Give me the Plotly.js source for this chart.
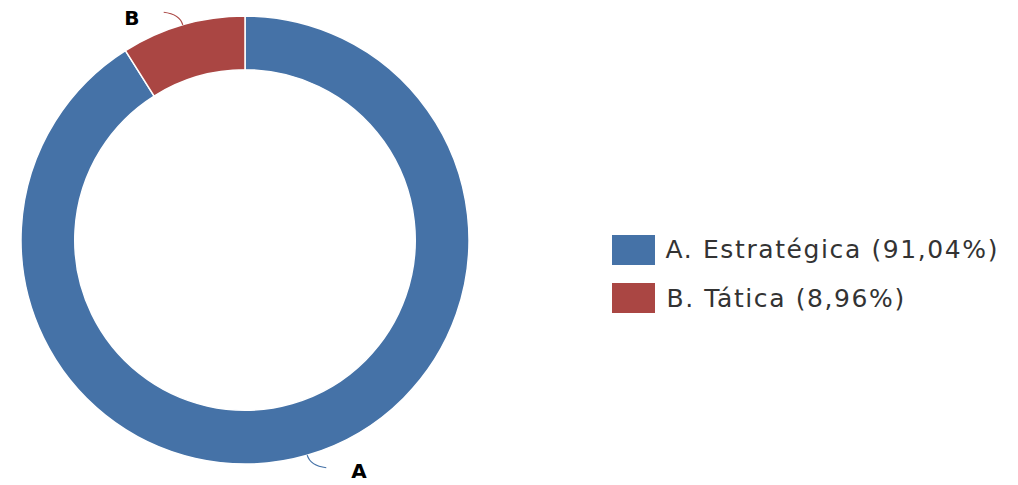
<!DOCTYPE html>
<html>
<head>
<meta charset="utf-8">
<script src="https://cdn.plot.ly/plotly-3.0.1.min.js"></script>
<style>
html,body{margin:0;padding:0;background:#fff;}
#chart{width:1018px;height:485px;}
#chart .annotation-text{letter-spacing:1.6px;}
</style>
</head>
<body>
<div id="chart"></div>
<script>
const categories = ["A. Estratégica", "B. Tática"];
const shortLabels = ["A", "B"];
const values = [91.04, 8.96];
const percentLabels = ["91,04%", "8,96%"];
const colors = ["#4572A7", "#AA4643"];

const W = 1018, H = 485;
const cx = 245, cy = 240, R = 224;
const LS = 1.6; // css letter spacing applied to annotation text
const px2x = p => p / W;
const px2y = p => 1 - p / H;

const trace = {
  type: "pie",
  labels: categories,
  values: values,
  sort: false,
  direction: "clockwise",
  rotation: 0,
  hole: 0.76,
  textinfo: "none",
  hoverinfo: "label+percent",
  marker: { colors: colors, line: { color: "#ffffff", width: 1.5 } },
  domain: { x: [px2x(cx - R), px2x(cx + R)], y: [px2y(cy + R), px2y(cy - R)] },
  showlegend: false
};

// outside labels with connectors computed from the slice angles
const total = values.reduce((a, b) => a + b, 0);
const shapes = [];
const annotations = [];
let acc = 0;
values.forEach((v, i) => {
  const mid = (acc + v / 2) / total * 2 * Math.PI;
  acc += v;
  const dx = Math.sin(mid), dy = -Math.cos(mid);
  const P = [cx + R * dx, cy + R * dy];
  const Q = [cx + (R + 11) * dx, cy + (R + 11) * dy];
  const side = dx >= 0 ? 1 : -1;
  const E = [Q[0] + side * 16, Q[1] + (dy > 0 ? 2 : -2)];
  shapes.push({
    type: "path", xref: "paper", yref: "paper",
    path: `M ${px2x(P[0])} ${px2y(P[1])} Q ${px2x(Q[0])} ${px2y(Q[1])} ${px2x(E[0])} ${px2y(E[1])}`,
    line: { color: colors[i], width: 1.2 }
  });
  annotations.push({
    xref: "paper", yref: "paper",
    x: px2x(E[0] + side * (side > 0 ? 24 : 22)), y: px2y(E[1] + (dy > 0 ? 3 : 6)),
    xanchor: side > 0 ? "left" : "right", yanchor: "middle",
    text: "<b>" + shortLabels[i] + "</b>", showarrow: false,
    font: { family: "DejaVu Sans, Verdana, sans-serif", size: 20, color: "#000000" }
  });
});

// legend (squares + text) on the right
const legX = 612, legW = 43, legH = 30, legY0 = 235, legStep = 48;
categories.forEach((c, i) => {
  const top = legY0 + i * legStep;
  const txt = c + " (" + percentLabels[i] + ")";
  shapes.push({
    type: "rect", xref: "paper", yref: "paper",
    x0: px2x(legX), x1: px2x(legX + legW), y0: px2y(top + legH), y1: px2y(top),
    fillcolor: colors[i], line: { color: colors[i], width: 0 }
  });
  annotations.push({
    xref: "paper", yref: "paper",
    x: px2x(legX + legW + 9 + txt.length * LS / 2), y: px2y(top + legH / 2),
    xanchor: "left", yanchor: "middle", showarrow: false,
    text: txt,
    font: { family: "DejaVu Sans, Verdana, sans-serif", size: 25, color: "#333333" }
  });
});

const layout = {
  width: W, height: H,
  margin: { l: 0, r: 0, t: 0, b: 0 },
  paper_bgcolor: "#ffffff",
  showlegend: false,
  shapes: shapes,
  annotations: annotations
};

Plotly.newPlot("chart", [trace], layout, { displayModeBar: false, staticPlot: true });
</script>
</body>
</html>
